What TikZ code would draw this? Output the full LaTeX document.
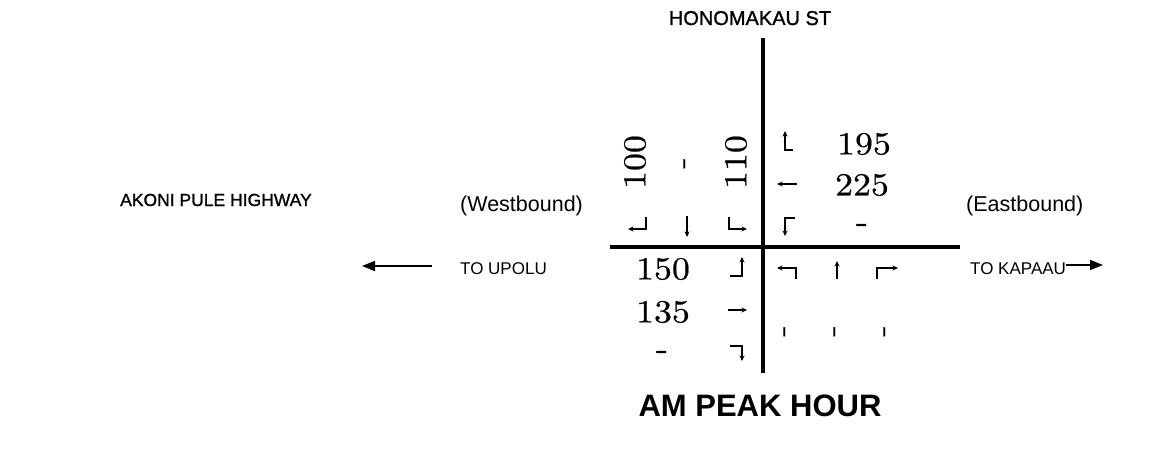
\documentclass[tikz,border=0pt]{standalone}
\usepackage{fontspec}
\newfontfamily\labfont{Liberation Sans}
\newfontfamily\labheavy[FakeBold=1.2]{Liberation Sans}
\newfontfamily\numfont[FakeBold=0.6,FakeStretch=1.12]{lmroman10-regular.otf}
\usetikzlibrary{arrows.meta}

\begin{document}
\begin{tikzpicture}[x=1pt,y=-1pt,
  lbl/.style={font=\labfont\fontsize{17}{20}\selectfont, inner sep=0pt, anchor=base west},
  big/.style={lbl, font=\labfont\fontsize{21.5}{24}\selectfont},
  vol/.style={font=\numfont\fontsize{32}{34}\selectfont, inner sep=0pt},
  tick/.style={font=\numfont\fontsize{30}{32}\selectfont, inner sep=0pt, rotate=90},
  mv/.style={line width=1.4pt, -{Stealth[length=5.5pt,width=5pt]}},
  road/.style={line width=4pt},
  dir/.style={line width=1.6pt, -{Triangle[length=13pt,width=10pt]}}]
\useasboundingbox (0,0) rectangle (1161,452);

% street names and headings
\node[lbl, font=\labheavy\fontsize{20}{24}\selectfont, anchor=base] (street) at (750,25) {HONOMAKAU ST};
\node[lbl, font=\labheavy\fontsize{17.5}{20}\selectfont] (highway) at (120,206) {AKONI PULE HIGHWAY};
\node[big] (wb) at (460,211) {(Westbound)};
\node[big] (eb) at (966,211) {(Eastbound)};
\node[lbl] (upolu) at (460,274) {TO UPOLU};
\node[lbl] (kapaau) at (970,274) {TO KAPAAU};
\node[font=\labfont\bfseries\fontsize{31}{34}\selectfont, inner sep=0pt, anchor=base] (title) at (760,416) {AM PEAK HOUR};

% road centre lines
\coordinate (nTop) at (763,38);
\coordinate (nBot) at (763,373);
\coordinate (wEnd) at (610,247);
\coordinate (eEnd) at (960,247);
\draw[road] (nTop) -- (nBot);
\draw[road] (wEnd) -- (eEnd);

% direction arrows
\coordinate (toUpolu) at (362,266);
\coordinate (fromUpolu) at (432,266);
\coordinate (toKapaau) at (1103,265);
\draw[dir] (fromUpolu) -- (toUpolu);
\draw[dir] (kapaau.base east) ++(0,-9) coordinate (kapEnd) -- (toKapaau);

% southbound approach
\node[vol, rotate=90] (sbR) at (635,162) {100};
\node[tick] (sbT) at (687,163) {-};
\node[vol, rotate=90] (sbL) at (736,162) {110};
\draw[mv] (646,217) -- (646,229) -- (628,229);
\draw[mv] (687,216) -- (687,237);
\draw[mv] (729,217) -- (729,229) -- (747,229);

% westbound approach
\node[vol] (wbR) at (864,144) {195};
\node[vol] (wbT) at (862,185) {225};
\node[vol] (wbL) at (862,228) {-};
\draw[mv] (793,150) -- (785,150) -- (785,131);
\draw[mv] (797,184) -- (777,184);
\draw[mv] (795,218) -- (785,218) -- (785,236);

% eastbound approach
\node[vol] (ebL) at (663,269) {150};
\node[vol] (ebT) at (663,312) {135};
\node[vol] (ebR) at (662,355) {-};
\draw[mv] (730,276) -- (742,276) -- (742,257);
\draw[mv] (728,310) -- (747,310);
\draw[mv] (730,346) -- (742,346) -- (742,361);

% northbound approach
\draw[mv] (796,279) -- (796,268) -- (777,268);
\draw[mv] (837,279) -- (837,261);
\draw[mv] (877,279) -- (877,268) -- (898,268);
\node[tick] (nbL) at (787,331) {-};
\node[tick] (nbT) at (837,331) {-};
\node[tick] (nbR) at (887,331) {-};
\end{tikzpicture}
\end{document}
